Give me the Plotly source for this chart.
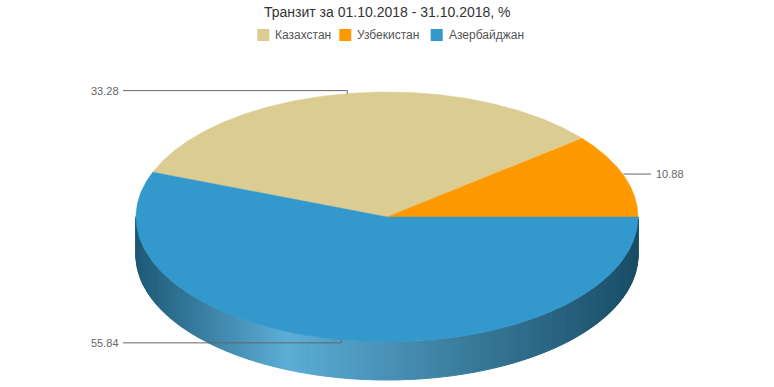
import numpy as np
import plotly.graph_objects as go

# ---- data ----
categories = ["Казахстан", "Узбекистан", "Азербайджан"]
values = [33.28, 10.88, 55.84]
value_labels = ["33.28", "10.88", "55.84"]
title_text = "Транзит за 01.10.2018 - 31.10.2018, %"

# ---- style ----
colors = ["#dbcc91", "#ff9900", "#3399cc"]
W, H = 774, 387
cx, cy, rx, ry, depth = 387.0, 217.0, 251.0, 125.0, 38.0
start_angle = 159.0  # degrees, slices run clockwise
FONT = "Liberation Sans, Arial, Helvetica, sans-serif"


def ell(theta_deg):
    t = np.radians(theta_deg)
    return cx + rx * np.cos(t), cy - ry * np.sin(t)


def hex2rgb(h):
    h = h.lstrip("#")
    return np.array([int(h[i:i + 2], 16) for i in (0, 2, 4)], dtype=float)


def side_color(base, u):
    b = hex2rgb(base)
    dark_l = b * 0.58
    light = b + (255 - b) * 0.2
    dark_r = b * 0.5
    if u <= 0.3:
        c = dark_l + (light - dark_l) * (u / 0.3)
    else:
        c = light + (dark_r - light) * ((u - 0.3) / 0.7)
    c = np.clip(c, 0, 255)
    return "rgb(%d,%d,%d)" % tuple(int(round(v)) for v in c)


total = sum(values)
ranges = []
a = start_angle
for v in values:
    span = v / total * 360.0
    ranges.append((a, a - span))
    a -= span

fig = go.Figure()

# ---- side walls (front, visible part) ----
for (a0, a1), col in zip(ranges, colors):
    n = max(2, int(np.ceil(abs(a0 - a1) / 1.0)))
    edges = np.linspace(a1, a0, n + 1)
    for t0, t1 in zip(edges[:-1], edges[1:]):
        tm = 0.5 * (t0 + t1)
        if np.sin(np.radians(tm)) >= 0:
            continue
        ts = np.linspace(t0, t1, 4)
        xs, ys = ell(ts)
        px = list(xs) + list(xs[::-1])
        py = list(ys) + list((ys + depth)[::-1])
        xm, _ = ell(tm)
        u = (xm - (cx - rx)) / (2 * rx)
        c = side_color(col, u)
        fig.add_trace(go.Scatter(
            x=px + [px[0]], y=py + [py[0]], mode="lines", fill="toself",
            fillcolor=c, line=dict(color=c, width=1), hoverinfo="skip",
            showlegend=False))

# ---- top faces ----
for (a0, a1), col, name, v in zip(ranges, colors, categories, values):
    ts = np.linspace(a0, a1, 240)
    xs, ys = ell(ts)
    px = [cx] + list(xs) + [cx]
    py = [cy] + list(ys) + [cy]
    fig.add_trace(go.Scatter(
        x=px, y=py, mode="lines", fill="toself", fillcolor=col,
        line=dict(color=col, width=0.5), name=name,
        hoverinfo="text", text="%s: %.2f" % (name, v), showlegend=False))

# ---- data labels with connectors ----
annotations = []
for (a0, a1), lab in zip(ranges, value_labels):
    mid = 0.5 * (a0 + a1)
    ex, ey = ell(mid)
    s = np.sin(np.radians(mid))
    ly = ey - 3.0 * s
    if np.cos(np.radians(mid)) < 0:
        lx_end = 123.0
        fig.add_trace(go.Scatter(
            x=[ex, ex, lx_end], y=[ey, ly, ly], mode="lines",
            line=dict(color="#666666", width=1), hoverinfo="skip",
            showlegend=False))
        annotations.append(dict(x=lx_end - 2, y=ly, text=lab, showarrow=False,
                                xanchor="right", yanchor="middle",
                                font=dict(family=FONT, size=11, color="#666666")))
    else:
        lx_end = 651.0
        fig.add_trace(go.Scatter(
            x=[ex, lx_end], y=[ly, ly], mode="lines",
            line=dict(color="#666666", width=1), hoverinfo="skip",
            showlegend=False))
        annotations.append(dict(x=lx_end + 3, y=ly, text=lab, showarrow=False,
                                xanchor="left", yanchor="middle",
                                font=dict(family=FONT, size=11, color="#666666")))

# ---- title ----
annotations.append(dict(x=W / 2, y=12, text=title_text, showarrow=False,
                        xanchor="center", yanchor="middle",
                        font=dict(family=FONT, size=14, color="#333333")))

# ---- legend (manual) ----
shapes = []
legend_x = [257.3, 339.3, 430.7]
legend_y = 35.0
for lx, name, col in zip(legend_x, categories, colors):
    shapes.append(dict(type="rect", xref="x", yref="y", x0=lx, x1=lx + 12,
                       y0=legend_y - 6, y1=legend_y + 6, fillcolor=col,
                       line=dict(width=0), layer="above"))
    annotations.append(dict(x=lx + 16, y=legend_y, text=name, showarrow=False,
                            xanchor="left", yanchor="middle",
                            font=dict(family=FONT, size=12, color="#555555")))

fig.update_layout(
    width=W, height=H, margin=dict(l=0, r=0, t=0, b=0),
    paper_bgcolor="white", plot_bgcolor="white",
    xaxis=dict(range=[0, W], visible=False, fixedrange=True),
    yaxis=dict(range=[H, 0], visible=False, fixedrange=True),
    annotations=annotations, shapes=shapes, showlegend=False,
)

fig.write_html(
    "out.html",
    config={"displayModeBar": False},
    post_script="document.body.style.margin='0';document.body.style.overflow='hidden';",
)
